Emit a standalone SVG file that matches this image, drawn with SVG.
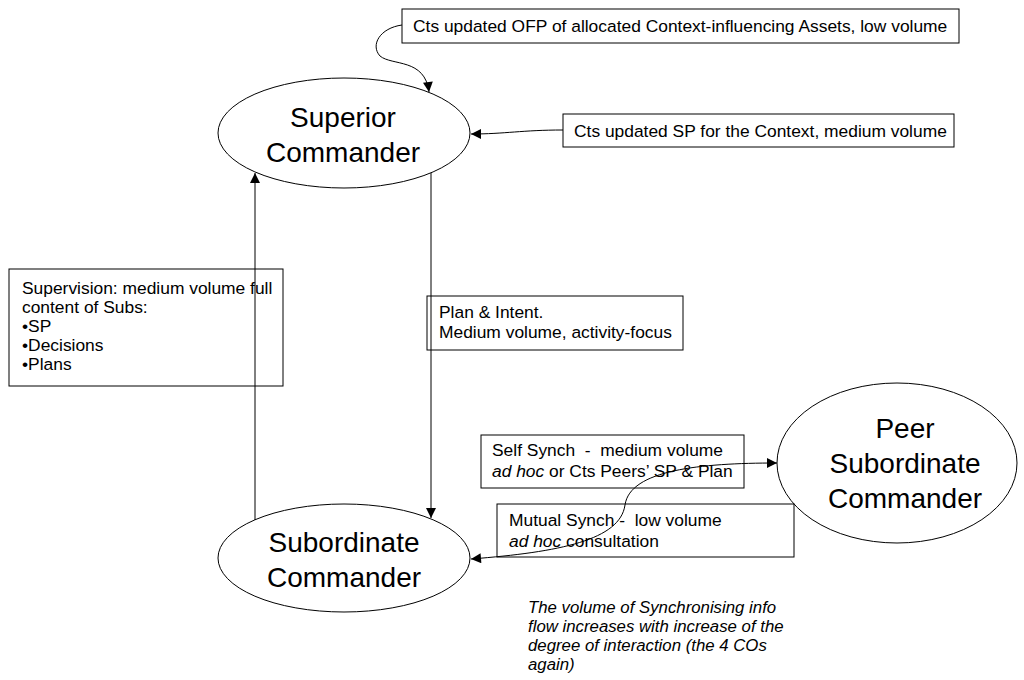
<svg xmlns="http://www.w3.org/2000/svg" width="1024" height="680" viewBox="0 0 1024 680">
  <style>
    .bg { fill: #ffffff; }
    .node { fill: #ffffff; stroke: #000000; stroke-width: 1; }
    .box { fill: #ffffff; stroke: #000000; stroke-width: 1; }
    .big { font-family: "Liberation Sans", Arial, sans-serif; font-size: 28px; fill: #000000; text-anchor: middle; }
    .lbl { font-family: "Liberation Sans", Arial, sans-serif; font-size: 17.4px; fill: #000000; white-space: pre; }
    .note { font-family: "Liberation Sans", Arial, sans-serif; font-size: 16.8px; font-style: italic; fill: #000000; }
    .it { font-style: italic; }
    .edge { fill: none; stroke: #000000; stroke-width: 1; }
  </style>
  <defs>
    <marker id="arrow" viewBox="0 0 10 10" refX="10" refY="5" markerWidth="11" markerHeight="10" markerUnits="userSpaceOnUse" orient="auto-start-reverse">
      <path d="M0,0 L10,5 L0,10 Z" fill="#000000"/>
    </marker>
  </defs>

  <rect class="bg" x="0" y="0" width="1024" height="680"/>

  <!-- commanders -->
  <g id="superior">
    <ellipse class="node" cx="344" cy="133" rx="126" ry="55"/>
    <text class="big" x="343" y="127">Superior</text>
    <text class="big" x="343" y="162">Commander</text>
  </g>

  <g id="subordinate">
    <ellipse class="node" cx="344" cy="558" rx="126" ry="54"/>
    <text class="big" x="344" y="552">Subordinate</text>
    <text class="big" x="344" y="587">Commander</text>
  </g>

  <g id="peer">
    <ellipse class="node" cx="897" cy="463" rx="120" ry="80"/>
    <text class="big" x="905" y="438">Peer</text>
    <text class="big" x="905" y="473">Subordinate</text>
    <text class="big" x="905" y="508">Commander</text>
  </g>

  <!-- information flow labels -->
  <g id="ofp-label">
    <rect class="box" x="402" y="9" width="557" height="34"/>
    <text class="lbl" x="413" y="32">Cts updated OFP of allocated Context-influencing Assets, low volume</text>
  </g>

  <g id="sp-label">
    <rect class="box" x="563" y="114" width="391" height="33"/>
    <text class="lbl" x="574" y="137">Cts updated SP for the Context, medium volume</text>
  </g>

  <g id="supervision-label">
    <rect class="box" x="9" y="269" width="274" height="117"/>
    <text class="lbl" x="22" y="294">Supervision: medium volume full</text>
    <text class="lbl" x="22" y="313">content of Subs:</text>
    <text class="lbl" x="22" y="332">•SP</text>
    <text class="lbl" x="22" y="351">•Decisions</text>
    <text class="lbl" x="22" y="370">•Plans</text>
  </g>

  <g id="plan-label">
    <rect class="box" x="427" y="296" width="256" height="54"/>
    <text class="lbl" x="439" y="318">Plan &amp; Intent.</text>
    <text class="lbl" x="439" y="338">Medium volume, activity-focus</text>
  </g>

  <g id="self-synch-label">
    <rect class="box" x="481" y="435" width="263" height="53"/>
    <text class="lbl" x="492" y="456">Self Synch  -  medium volume</text>
    <text class="lbl" x="492" y="477"><tspan class="it">ad hoc</tspan> or Cts Peers’ SP &amp; Plan</text>
  </g>

  <g id="mutual-synch-label">
    <rect class="box" x="497" y="504" width="297" height="53"/>
    <text class="lbl" x="509" y="526">Mutual Synch -  low volume</text>
    <text class="lbl" x="509" y="547"><tspan class="it">ad hoc</tspan> consultation</text>
  </g>

  <!-- connectors -->
  <g id="connectors">
    <path class="edge" d="M402,25 C380,28 370,45 380,56 C392,66 425,58 429,92" marker-end="url(#arrow)"/>
    <path class="edge" d="M563,130 C522,130 505,134 471,134" marker-end="url(#arrow)"/>
    <path class="edge" d="M255,520 L255,173" marker-end="url(#arrow)"/>
    <path class="edge" d="M431,173 L431,518" marker-end="url(#arrow)"/>
    <path class="edge" d="M471,559 C560,552 620,540 625,505 C630,470 700,463 777,463" marker-start="url(#arrow)" marker-end="url(#arrow)"/>
  </g>

  <g id="note">
    <text class="note" x="528" y="613">The volume of Synchronising info</text>
    <text class="note" x="528" y="632">flow increases with increase of the</text>
    <text class="note" x="528" y="651">degree of interaction (the 4 COs</text>
    <text class="note" x="528" y="670">again)</text>
  </g>
</svg>
